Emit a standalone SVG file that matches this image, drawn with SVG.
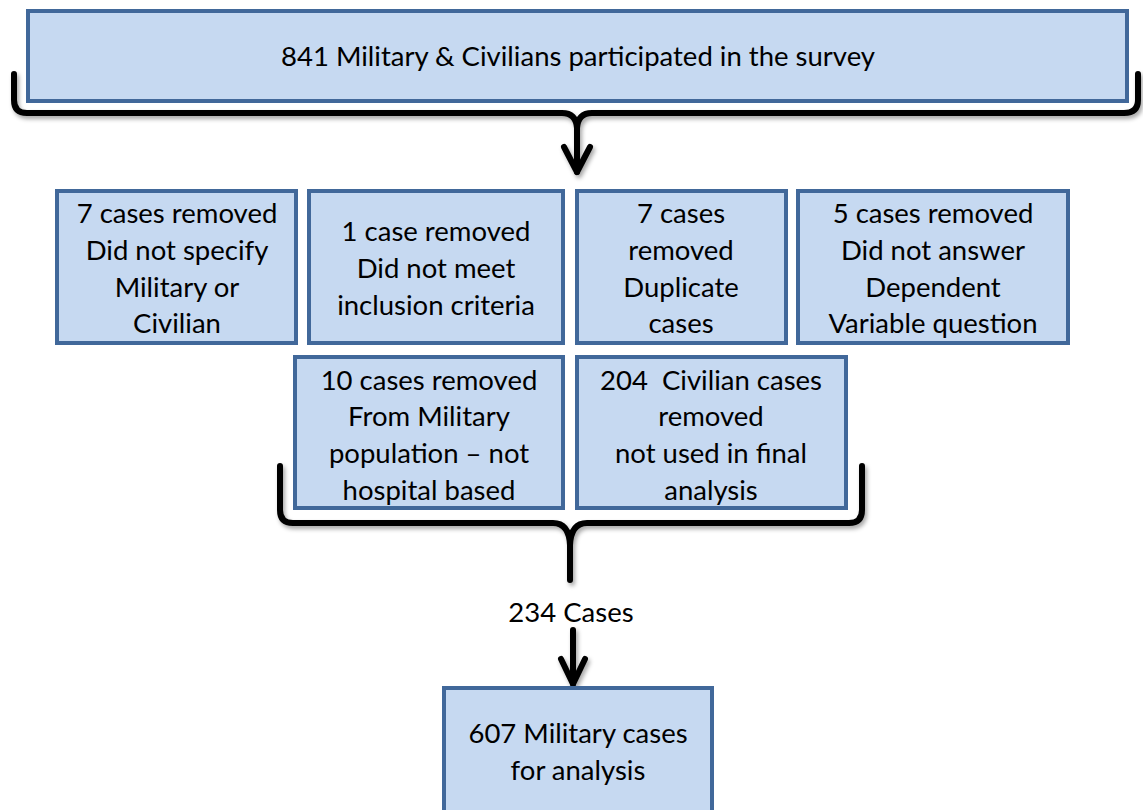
<svg xmlns="http://www.w3.org/2000/svg" width="1143" height="810" viewBox="0 0 1143 810">
<defs>
<style>
.box{fill:#c6d9f1;stroke:#41689a;stroke-width:4;}
.t{font-family:Lato,"Liberation Sans",sans-serif;font-size:27.5px;fill:#000;text-anchor:middle;}
.br{fill:none;stroke:#000;stroke-width:6;stroke-linecap:round;stroke-linejoin:round;}
</style>
<filter id="sh" x="-5%" y="-20%" width="110%" height="140%">
<feDropShadow dx="2" dy="3" stdDeviation="2" flood-color="#000" flood-opacity="0.35"/>
</filter>
</defs>
<rect width="1143" height="810" fill="#fff"/>
<g id="top">
<rect class="box" x="28" y="11" width="1099" height="90"/>
<text class="t" x="578" y="66">841 Military &amp; Civilians participated in the survey</text>
</g>
<g id="connectors" filter="url(#sh)">
<path class="br" d="M14,74 V100 Q14,113 27,113 H562 Q576,113 577,128 Q578,113 592,113 H1124 Q1138,113 1138,100 V74"/>
<path class="br" d="M577,120 V172"/>
<path class="br" stroke-width="8" d="M564,147 L577,172 L590,147"/>
<path class="br" d="M280,466 V510 Q280,523 293,523 H553 Q569,523 570,545 V580 M570,545 Q571,523 587,523 H849 Q862,523 862,510 V466"/>
<path class="br" d="M573,630 V684"/>
<path class="br" stroke-width="8" d="M561,659 L573,684 L585,659"/>
</g>
<g id="n1">
<rect class="box" x="57" y="191" width="239" height="152"/>
<text class="t" x="177" y="223">7 cases removed</text>
<text class="t" x="177" y="260">Did not specify</text>
<text class="t" x="177" y="297">Military or</text>
<text class="t" x="177" y="333">Civilian</text>
</g>
<g id="n2">
<rect class="box" x="309" y="191" width="254" height="152"/>
<text class="t" x="436" y="241">1 case removed</text>
<text class="t" x="436" y="278">Did not meet</text>
<text class="t" x="436" y="315">inclusion criteria</text>
</g>
<g id="n3">
<rect class="box" x="577" y="191" width="209" height="152"/>
<text class="t" x="681" y="223">7 cases</text>
<text class="t" x="681" y="260">removed</text>
<text class="t" x="681" y="297">Duplicate</text>
<text class="t" x="681" y="333">cases</text>
</g>
<g id="n4">
<rect class="box" x="798" y="191" width="270" height="152"/>
<text class="t" x="933" y="223">5 cases removed</text>
<text class="t" x="933" y="260">Did not answer</text>
<text class="t" x="933" y="297">Dependent</text>
<text class="t" x="933" y="333">Variable question</text>
</g>
<g id="n5">
<rect class="box" x="295" y="357" width="268" height="151"/>
<text class="t" x="429" y="390">10 cases removed</text>
<text class="t" x="429" y="426">From Military</text>
<text class="t" x="429" y="463">population – not</text>
<text class="t" x="429" y="500">hospital based</text>
</g>
<g id="n6">
<rect class="box" x="577" y="357" width="269" height="151"/>
<text class="t" x="711" y="390" xml:space="preserve">204  Civilian cases</text>
<text class="t" x="711" y="426">removed</text>
<text class="t" x="711" y="463">not used in final</text>
<text class="t" x="711" y="500">analysis</text>
</g>
<g id="lbl">
<text class="t" x="571" y="622">234 Cases</text>
</g>
<g id="n7">
<rect class="box" x="444" y="688" width="268" height="130"/>
<text class="t" x="578" y="743">607 Military cases</text>
<text class="t" x="578" y="780">for analysis</text>
</g>
</svg>
